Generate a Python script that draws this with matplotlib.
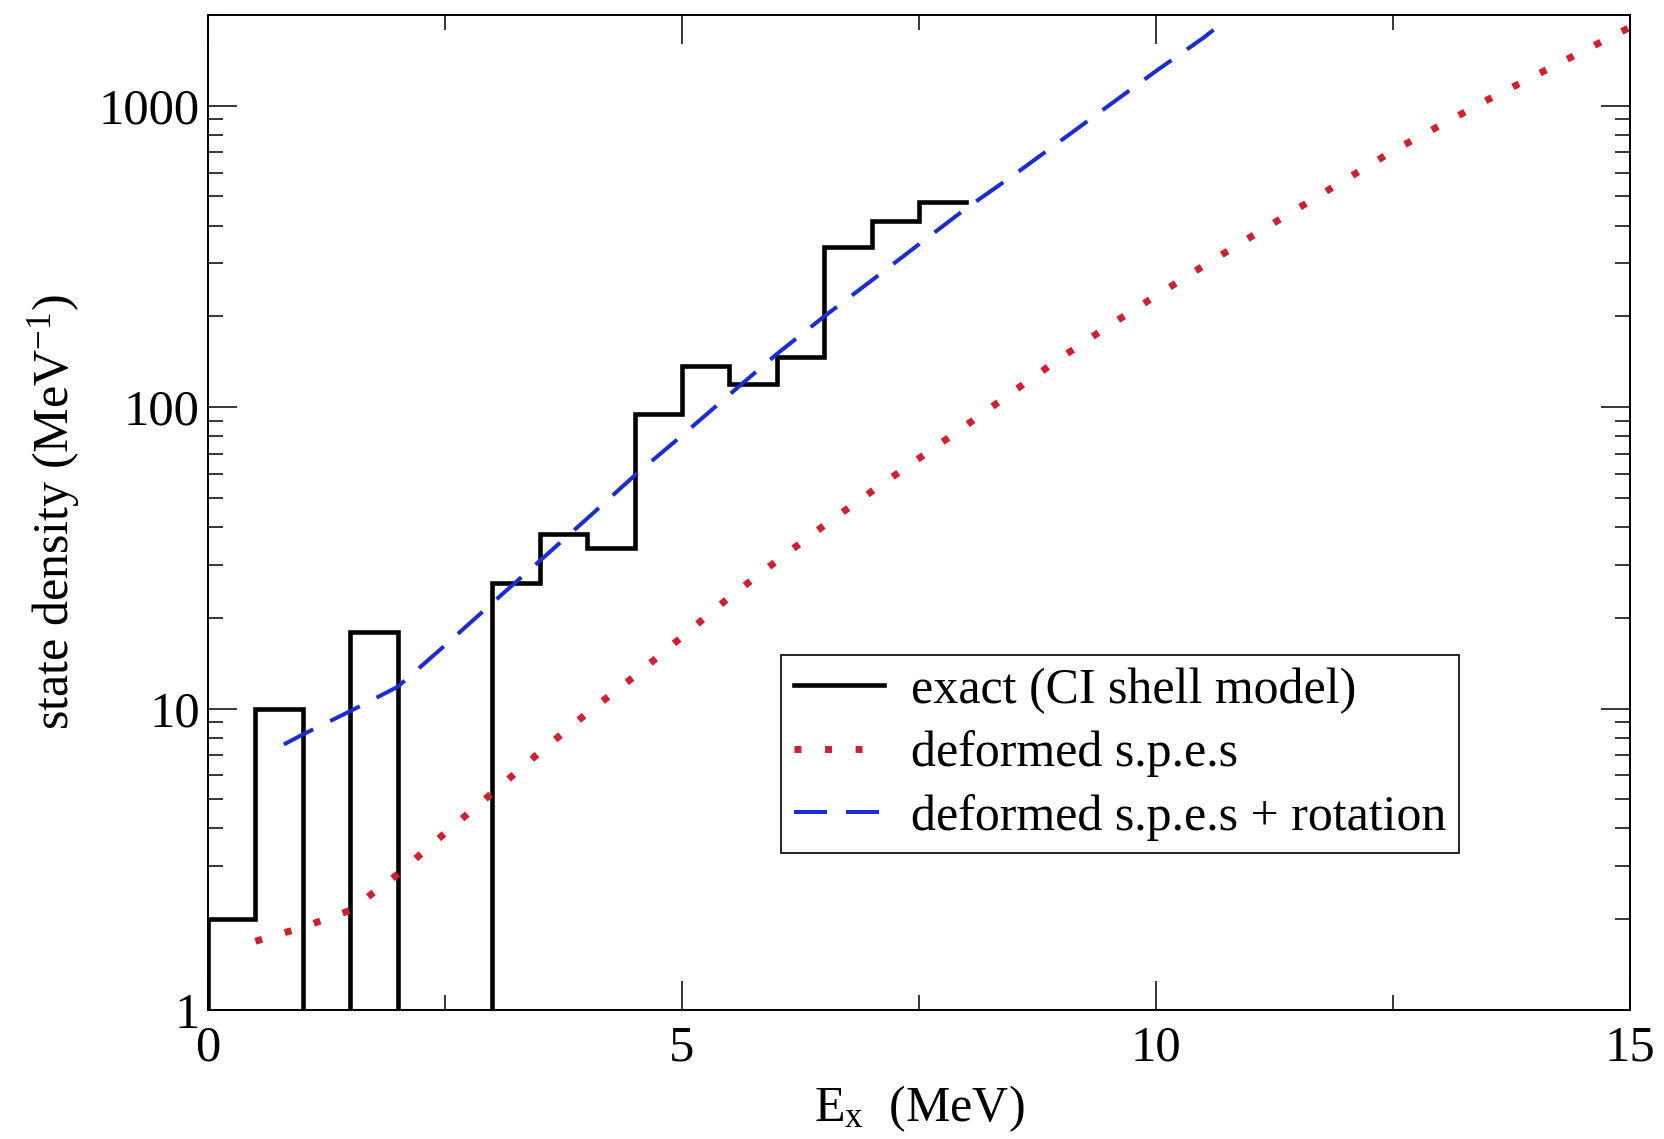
#!/usr/bin/env python3
import numpy as np
import matplotlib
matplotlib.use('Agg')
import matplotlib.pyplot as plt
from matplotlib.ticker import MultipleLocator, LogLocator, FuncFormatter, NullFormatter

# exact CI shell-model state density, 0.5 MeV bins
bin_edges = [0.0, 0.5, 1.0, 1.5, 2.0, 2.5, 3.0, 3.5, 4.0, 4.5, 5.0, 5.5, 6.0, 6.5, 7.0, 7.5, 8.0]
exact_density = [2, 10, 0, 18, 0, 0, 26, 38, 34, 95, 137, 119, 147, 341, 415, 478]

# deformed s.p.e.s
spes_energy = [0.5, 1.0, 1.5, 2.0, 2.5, 3.0, 3.5, 4.0, 4.5, 5.0, 5.5, 6.0, 6.5, 7.0, 7.5,
               8.0, 8.5, 9.0, 9.5, 10.0, 10.5, 11.0, 11.5, 12.0, 12.5, 13.0, 13.5, 14.0, 14.5, 15.0]
spes_density = [1.69, 1.88, 2.14, 2.82, 3.86, 5.25, 7.16, 9.66, 12.8, 17.3, 23.4, 30.9, 40.5, 52.5, 67.6,
                87.1, 113, 146, 186, 234, 294, 367, 457, 569, 708, 861, 1047, 1259, 1514, 1820]

# deformed s.p.e.s + rotation
rot_energy = [0.8, 1.0, 1.5, 2.0, 2.5, 3.0, 3.5, 4.0, 4.5, 5.0, 5.5, 6.0, 6.5, 7.0, 7.5,
              8.0, 8.5, 9.0, 9.5, 10.0, 10.5, 10.65]
rot_density = [7.6, 8.2, 9.8, 11.8, 16.2, 22.4, 30.9, 42.7, 59.3, 80.5, 110, 150, 200, 263, 347,
               457, 589, 767, 1000, 1303, 1679, 1830]

labels = ["exact (CI shell model)", "deformed s.p.e.s", "deformed s.p.e.s + rotation"]

plt.rcParams['font.family'] = ['Liberation Serif', 'DejaVu Serif']
plt.rcParams['mathtext.default'] = 'regular'

fig = plt.figure(figsize=(16.64, 11.39), dpi=100)
ax = fig.add_axes([0.125, 0.1133, 0.8546, 0.8736])

# histogram outline, empty bins pushed below the axis floor
floor = 0.1
counts = np.array(exact_density, dtype=float)
counts[counts <= 0] = floor
xs = np.repeat(bin_edges, 2)[:-1]
ys = np.r_[floor, np.repeat(counts, 2)]
ax.plot(xs, ys, color='black', lw=3.3, label=labels[0], solid_joinstyle='miter')

ax.plot(spes_energy, spes_density, color='#d0202e', lw=5, linestyle=(0, (1, 3.4)),
        dash_capstyle='butt', label=labels[1])
ax.plot(rot_energy, rot_density, color='#1a2ed0', lw=2.9, linestyle=(0, (8.2, 4.7)),
        dash_capstyle='butt', label=labels[2])

ax.set_yscale('log')
ax.set_xlim(0, 15)
ax.set_ylim(1, 2000)
ax.xaxis.set_major_locator(MultipleLocator(5))
ax.xaxis.set_minor_locator(MultipleLocator(2.5))
ax.yaxis.set_major_locator(LogLocator(base=10, numticks=10))
ax.yaxis.set_minor_locator(LogLocator(base=10, subs=np.arange(2, 10), numticks=20))
ax.yaxis.set_major_formatter(FuncFormatter(lambda v, p: '%d' % round(v)))
ax.yaxis.set_minor_formatter(NullFormatter())

ax.tick_params(which='both', direction='in', top=True, right=True, width=1.1)
ax.tick_params(which='major', length=21, labelsize=36.5)
ax.tick_params(which='minor', length=10.8)
ax.tick_params(axis='x', pad=11)
ax.tick_params(axis='y', pad=6)
for s in ax.spines.values():
    s.set_linewidth(1.4)

ax.set_xlabel("E$_x$  (MeV)", fontsize=36, labelpad=8)
ax.set_ylabel("state density (MeV$^{-1}$)", fontsize=36, labelpad=12)

leg = ax.legend(loc='upper left', bbox_to_anchor=(0.403, 0.357), fontsize=36,
                fancybox=False, edgecolor='black', framealpha=1, borderpad=0.25,
                handlelength=1.8, handletextpad=0.55, labelspacing=0.33, borderaxespad=0)
leg.get_frame().set_linewidth(1.2)

fig.savefig('out.png', dpi=100)
